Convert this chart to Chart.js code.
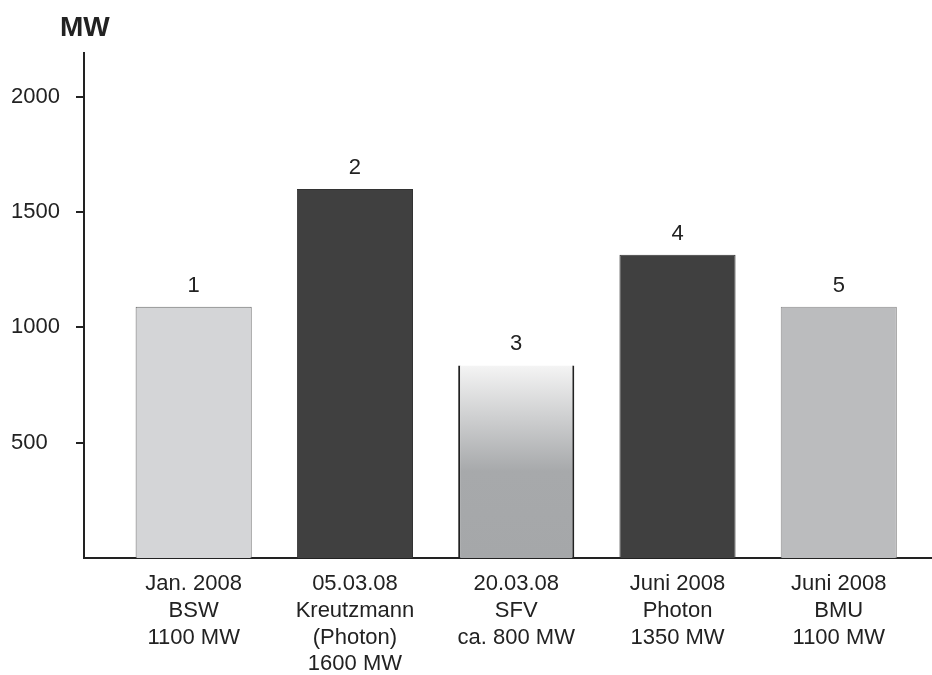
<!DOCTYPE html>
<html lang="de">
<head>
    <meta charset="UTF-8" />
    <title>PV-Zubau Prognosen 2008</title>
    <style>
        body {
            margin: 0;
            background-color: #fff;
            font-family: 'Liberation Sans', Arial, sans-serif;
        }
        .chart-container {
            width: 932px;
            height: 675px;
            position: relative;
        }
    </style>
    <script src="https://cdn.jsdelivr.net/npm/chart.js"></script>
</head>
<body>
    <div class="chart-container">
        <canvas id="mwChart"></canvas>
    </div>

    <script>
        // Data
        const categories = [
            ['Jan. 2008', 'BSW', '1100 MW'],
            ['05.03.08', 'Kreutzmann', '(Photon)', '1600 MW'],
            ['20.03.08', 'SFV', 'ca. 800 MW'],
            ['Juni 2008', 'Photon', '1350 MW'],
            ['Juni 2008', 'BMU', '1100 MW']
        ];
        const positions = [1, 2, 3, 4, 5];
        const values = [1090, 1600, 835, 1315, 1090];
        const barNumbers = ['1', '2', '3', '4', '5'];
        const yTicks = [500, 1000, 1500, 2000];
        const unitLabel = 'MW';

        const textColor = '#222';
        const fills = ['#d4d5d7', '#404040', null, '#404040', '#bbbcbe'];
        const borders = ['#6a6a6a', '#333333', '#222222', '#333333', '#8a8a8a'];
        const borderWidths = [
            { left: 1, right: 1, top: 1, bottom: 0 },
            { left: 1, right: 1, top: 1, bottom: 0 },
            { left: 2, right: 2, top: 0, bottom: 0 },
            { left: 1, right: 1, top: 1, bottom: 0 },
            { left: 1, right: 1, top: 1, bottom: 0 }
        ];

        // bar 3 has a light-to-grey vertical gradient
        function barFill(ctx) {
            const i = ctx.dataIndex;
            if (fills[i]) return fills[i];
            const chart = ctx.chart;
            const y = chart.scales.y;
            if (!chart.chartArea || !y) return '#a6a8aa';
            const top = y.getPixelForValue(values[i]);
            const bottom = y.getPixelForValue(0);
            const g = chart.ctx.createLinearGradient(0, top, 0, bottom);
            g.addColorStop(0, '#f4f4f4');
            g.addColorStop(0.55, '#a7a9ab');
            g.addColorStop(1, '#a5a7a9');
            return g;
        }

        // numbers above the bars + "MW" unit label
        const labelPlugin = {
            id: 'labelPlugin',
            afterDatasetsDraw(chart) {
                const ctx = chart.ctx;
                const meta = chart.getDatasetMeta(0);
                ctx.save();
                ctx.fillStyle = textColor;
                ctx.font = '22px "Liberation Sans", Arial, sans-serif';
                ctx.textAlign = 'center';
                ctx.textBaseline = 'alphabetic';
                meta.data.forEach((bar, i) => {
                    ctx.fillText(barNumbers[i], bar.x, bar.y - 15);
                });
                ctx.font = 'bold 28px "Liberation Sans", Arial, sans-serif';
                ctx.textAlign = 'left';
                ctx.fillText(unitLabel, 60, 36);
                ctx.restore();
            }
        };

        const ctx = document.getElementById('mwChart').getContext('2d');
        const mwChart = new Chart(ctx, {
            type: 'bar',
            data: {
                datasets: [{
                    data: positions.map((p, i) => ({ x: p, y: values[i] })),
                    backgroundColor: barFill,
                    borderColor: borders,
                    borderWidth: (c) => borderWidths[c.dataIndex],
                    borderSkipped: false,
                    barPercentage: 0.72,
                    categoryPercentage: 1.0
                }]
            },
            options: {
                responsive: true,
                maintainAspectRatio: false,
                animation: false,
                layout: {
                    padding: { top: 53, left: 11, right: 0, bottom: 0 }
                },
                scales: {
                    x: {
                        type: 'linear',
                        offset: false,
                        min: 0.32,
                        max: 5.578,
                        afterBuildTicks: (axis) => {
                            axis.ticks = positions.map(p => ({ value: p }));
                        },
                        afterFit: (axis) => { axis.height = 117; },
                        grid: { display: false, drawTicks: false, offset: false },
                        border: { display: true, color: textColor, width: 2 },
                        ticks: {
                            autoSkip: false,
                            maxRotation: 0,
                            padding: 13,
                            color: textColor,
                            font: { family: "'Liberation Sans', Arial, sans-serif", size: 22, lineHeight: 1.21 },
                            callback: (v) => categories[positions.indexOf(v)]
                        }
                    },
                    y: {
                        min: 0,
                        max: 2190,
                        afterBuildTicks: (axis) => {
                            axis.ticks = yTicks.map(v => ({ value: v }));
                        },
                        afterFit: (axis) => { axis.width = 73; },
                        grid: {
                            drawOnChartArea: false,
                            drawTicks: true,
                            tickLength: 8,
                            color: textColor,
                            lineWidth: 2
                        },
                        border: { display: true, color: textColor, width: 2 },
                        ticks: {
                            crossAlign: 'far',
                            color: textColor,
                            font: { family: "'Liberation Sans', Arial, sans-serif", size: 22 },
                            callback: (v) => String(v)
                        }
                    }
                },
                plugins: {
                    legend: { display: false },
                    tooltip: { enabled: false }
                }
            },
            plugins: [labelPlugin]
        });
    </script>
</body>
</html>
